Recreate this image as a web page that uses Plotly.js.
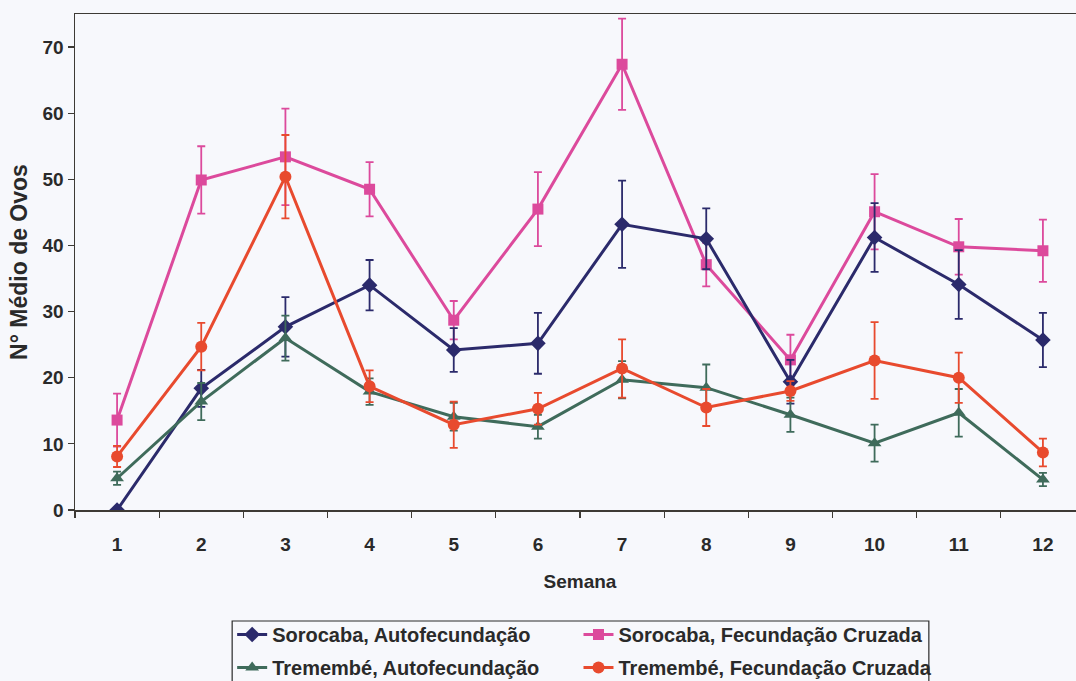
<!DOCTYPE html>
<html>
<head>
<meta charset="utf-8">
<script src="https://cdn.plot.ly/plotly-3.0.1.min.js"></script>
<style>
  html, body { margin: 0; padding: 0; overflow: hidden; background: #f7f8fc; }
  #chart { width: 1085px; height: 700px; }
</style>
</head>
<body>
<div id="chart"></div>
<script>
// Semanas de observação
const semanas = ['1', '2', '3', '4', '5', '6', '7', '8', '9', '10', '11', '12'];

// Sorocaba, autofecundação: média e erro
const sorocabaAuto = [0, 18.4, 27.7, 34.0, 24.2, 25.2, 43.2, 41.0, 19.4, 41.2, 34.1, 25.7];
const sorocabaAutoErro = [0, 2.8, 4.5, 3.8, 3.3, 4.6, 6.6, 4.6, 3.3, 5.2, 5.2, 4.1];

// Sorocaba, fecundação cruzada
const sorocabaCruzada = [13.6, 49.9, 53.4, 48.5, 28.7, 45.5, 67.4, 37.1, 22.7, 45.1, 39.8, 39.2];
const sorocabaCruzadaErro = [4.0, 5.1, 7.3, 4.1, 2.9, 5.6, 6.9, 3.3, 3.8, 5.7, 4.2, 4.7];

// Tremembé, autofecundação
const tremembeAuto = [4.8, 16.4, 26.0, 17.9, 14.1, 12.6, 19.7, 18.5, 14.4, 10.1, 14.7, 4.6];
const tremembeAutoErro = [1.0, 2.8, 3.4, 2.0, 2.1, 1.8, 2.8, 3.5, 2.6, 2.8, 3.6, 1.0];

// Tremembé, fecundação cruzada
const tremembeCruzada = [8.1, 24.7, 50.4, 18.7, 12.9, 15.3, 21.4, 15.5, 18.0, 22.6, 20.0, 8.7];
const tremembeCruzadaErro = [1.6, 3.6, 6.3, 2.4, 3.5, 2.4, 4.4, 2.8, 1.5, 5.8, 3.8, 2.1];

const yTicks = [0, 10, 20, 30, 40, 50, 60, 70];

function serie(nome, y, erro, cor, simbolo, tamanho, legenda) {
  return {
    type: 'scatter',
    mode: 'lines+markers',
    name: nome,
    legend: legenda,
    legendgroup: nome,
    x: semanas,
    y: y,
    line: { color: cor, width: 3 },
    marker: { color: cor, symbol: simbolo, size: tamanho },
    error_y: { type: 'data', array: erro, visible: true, color: cor, thickness: 1.8, width: 4 }
  };
}

// Primeira coluna da legenda: autofecundação; segunda: fecundação cruzada
const traces = [
  serie('Sorocaba, Fecundação Cruzada', sorocabaCruzada, sorocabaCruzadaErro, '#dc4a9c', 'square', 11, 'legend2'),
  serie('Sorocaba, Autofecundação', sorocabaAuto, sorocabaAutoErro, '#2b2a6b', 'diamond', 12, 'legend'),
  serie('Tremembé, Autofecundação', tremembeAuto, tremembeAutoErro, '#3f6b5b', 'triangle-up', 12, 'legend'),
  serie('Tremembé, Fecundação Cruzada', tremembeCruzada, tremembeCruzadaErro, '#e84a2e', 'circle', 12, 'legend2')
];

const familia = 'Liberation Sans, Arial, sans-serif';
const corTexto = '#2a2a2a';
const corEixo = '#3d3a35';

const fonteLegenda = { family: familia, size: 20, color: corTexto, weight: 'bold' };

function legendaColuna(x) {
  return {
    orientation: 'v',
    x: x,
    xanchor: 'left',
    y: -0.2117,
    yanchor: 'top',
    bgcolor: 'rgba(0,0,0,0)',
    borderwidth: 0,
    itemwidth: 30,
    traceorder: 'grouped',
    tracegroupgap: 4,
    font: fonteLegenda
  };
}

const layout = {
  width: 1085,
  height: 700,
  paper_bgcolor: '#f7f8fc',
  plot_bgcolor: '#f7f8fc',
  margin: { l: 75, r: 0, t: 14, b: 190 },
  font: { family: familia, color: corTexto, weight: 'bold' },
  showlegend: true,
  xaxis: {
    type: 'category',
    range: [-0.5, 11.5],
    tickson: 'boundaries',
    ticks: 'outside',
    ticklen: 6,
    tickwidth: 1.2,
    tickcolor: corEixo,
    showline: true,
    linecolor: corEixo,
    linewidth: 1.5,
    mirror: true,
    showgrid: false,
    zeroline: false,
    ticklabelstandoff: 17,
    tickfont: { family: familia, size: 19, color: corTexto, weight: 'bold' },
    title: { text: 'Semana', font: { family: familia, size: 19, color: corTexto, weight: 'bold' }, standoff: 20 },
    automargin: false
  },
  yaxis: {
    range: [0, 75],
    tickvals: yTicks,
    ticktext: yTicks.map(String),
    ticks: 'outside',
    ticklen: 6,
    tickwidth: 1.2,
    tickcolor: corEixo,
    showline: true,
    linecolor: corEixo,
    linewidth: 1.5,
    showgrid: false,
    zeroline: false,
    tickfont: { family: familia, size: 19, color: corTexto, weight: 'bold' },
    title: { text: 'N° Médio de Ovos', font: { family: familia, size: 23, color: corTexto, weight: 'bold' }, standoff: 8 },
    automargin: false
  },
  legend: legendaColuna(0.1556),
  legend2: legendaColuna(0.4985),
  shapes: [{
    // moldura comum às duas colunas da legenda
    type: 'rect',
    xref: 'paper', yref: 'paper',
    x0: 0.1556, x1: 0.8454,
    y0: -0.2238, y1: -0.363,
    line: { color: corTexto, width: 1.2 },
    fillcolor: 'rgba(0,0,0,0)',
    layer: 'below'
  }]
};

Plotly.newPlot('chart', traces, layout, { staticPlot: true, displayModeBar: false });
</script>
</body>
</html>
